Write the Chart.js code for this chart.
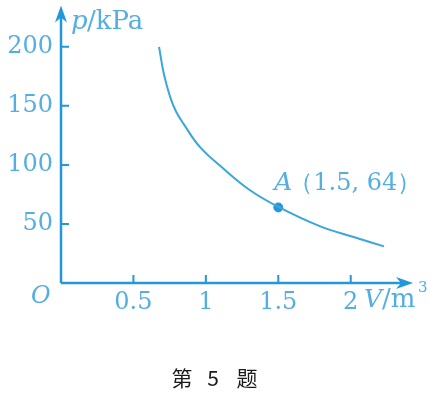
<!DOCTYPE html>
<html>
<head>
<meta charset="utf-8">
<script src="https://cdn.jsdelivr.net/npm/chart.js@4"></script>
<style>
  html, body { margin: 0; padding: 0; background: #fff; }
  #wrap { position: relative; width: 430px; height: 393px; }
</style>
</head>
<body>
<div id="wrap"><canvas id="c" width="430" height="393"></canvas></div>
<script>
// curve
const volumes = [0.677, 0.71, 0.755, 0.795, 0.845, 0.96, 1.12, 1.3, 1.5, 1.79, 2.02, 2.23]
const pressures = [200, 177, 157, 145, 135, 115, 97, 79, 64.5, 48, 39, 31]
const pointA = [1.5, 64]
const xTicks = [0.5, 1, 1.5, 2]
const yTicks = [50, 100, 150, 200]

const BLUE = '#2297da'
const TEXT = '#55aee2'
const serif = '"DejaVu Serif", "Liberation Serif", serif'

const axesPlugin = {
  id: 'axes',
  afterDraw(chart) {
    const { ctx, scales: { x, y } } = chart
    const x0 = x.getPixelForValue(0)
    const y0 = y.getPixelForValue(0)
    const xEnd = x.getPixelForValue(x.max)
    const yEnd = y.getPixelForValue(y.max)
    ctx.save()
    ctx.strokeStyle = BLUE
    ctx.fillStyle = BLUE
    ctx.lineWidth = 2.5
    ctx.beginPath()
    ctx.moveTo(x0, y0)
    ctx.lineTo(xEnd - 10, y0)
    ctx.moveTo(x0, y0)
    ctx.lineTo(x0, yEnd + 10)
    ctx.stroke()
    // arrow heads
    ctx.beginPath()
    ctx.moveTo(xEnd, y0)
    ctx.lineTo(xEnd - 17, y0 - 6)
    ctx.lineTo(xEnd - 12, y0)
    ctx.lineTo(xEnd - 17, y0 + 6)
    ctx.closePath()
    ctx.fill()
    ctx.beginPath()
    ctx.moveTo(x0, yEnd)
    ctx.lineTo(x0 - 6, yEnd + 17)
    ctx.lineTo(x0, yEnd + 12)
    ctx.lineTo(x0 + 6, yEnd + 17)
    ctx.closePath()
    ctx.fill()
    // inward tick marks
    ctx.lineWidth = 2
    ctx.beginPath()
    xTicks.forEach(v => {
      const px = x.getPixelForValue(v)
      ctx.moveTo(px, y0)
      ctx.lineTo(px, y0 - 8)
    })
    yTicks.forEach(v => {
      const py = y.getPixelForValue(v)
      ctx.moveTo(x0, py)
      ctx.lineTo(x0 + 8, py)
    })
    ctx.stroke()

    // labels
    ctx.fillStyle = TEXT
    ctx.textBaseline = 'middle'
    ctx.textAlign = 'left'
    ctx.font = 'italic 26px ' + serif
    ctx.fillText('p', 71, 22)
    ctx.font = '26px ' + serif
    ctx.fillText('/kPa', 87, 22)

    ctx.font = 'italic 24px ' + serif
    ctx.fillText('O', 31, 297)

    ctx.font = 'italic 25px ' + serif
    ctx.fillText('V', 364, 300)
    ctx.font = '26px ' + serif
    ctx.fillText('/m', 382, 300)
    ctx.font = '15px ' + serif
    ctx.fillText('3', 418, 288)

    const ax = x.getPixelForValue(pointA[0])
    const ay = y.getPixelForValue(pointA[1])
    ctx.font = 'italic 25px ' + serif
    ctx.fillText('A', ax - 4, ay - 24)
    ctx.font = '24px ' + serif
    ctx.fillText('（1.5, 64）', ax + 11, ay - 24)

    // caption
    ctx.fillStyle = '#1a1a1a'
    ctx.textAlign = 'center'
    ctx.font = '21px "Noto Sans CJK SC", sans-serif'
    ctx.fillText('第', 182, 378)
    ctx.fillText('5', 213, 378)
    ctx.fillText('题', 247, 378)
    ctx.restore()
  }
}

new Chart(document.getElementById('c'), {
  type: 'scatter',
  data: {
    datasets: [
      {
        data: volumes.map((v, i) => ({ x: v, y: pressures[i] })),
        showLine: true,
        borderColor: '#3aa6de',
        borderWidth: 2,
        pointRadius: 0,
        tension: 0.4
      },
      {
        data: [{ x: pointA[0], y: pointA[1] }],
        pointRadius: 4.5,
        backgroundColor: BLUE,
        borderColor: BLUE
      }
    ]
  },
  options: {
    responsive: false,
    animation: false,
    layout: { padding: { top: 5, right: 17, left: 0, bottom: 0 } },
    plugins: { legend: { display: false }, tooltip: { enabled: false } },
    scales: {
      x: {
        type: 'linear',
        min: 0,
        max: 2.43,
        afterFit(s) {
          s.height = 110
          s.paddingLeft = 0
          s.paddingRight = 0
        },
        afterBuildTicks(s) { s.ticks = xTicks.map(v => ({ value: v })) },
        grid: { display: false, drawTicks: false },
        border: { display: false },
        ticks: {
          padding: 5,
          color: TEXT,
          font: { family: serif, size: 24 },
          maxRotation: 0,
          callback: v => String(v)
        }
      },
      y: {
        type: 'linear',
        min: 0,
        max: 235,
        afterFit(s) {
          s.width = 61
          s.paddingTop = 0
          s.paddingBottom = 0
        },
        afterBuildTicks(s) { s.ticks = yTicks.map(v => ({ value: v })) },
        grid: { display: false, drawTicks: false },
        border: { display: false },
        ticks: {
          padding: 8,
          color: TEXT,
          font: { family: serif, size: 24 },
          callback: v => String(v)
        }
      }
    }
  },
  plugins: [axesPlugin]
})
</script>
</body>
</html>
